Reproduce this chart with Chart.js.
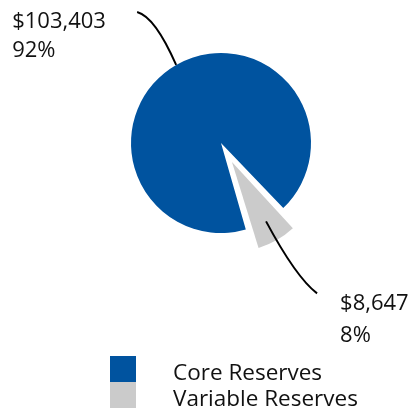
<!DOCTYPE html>
<html>
<head>
<meta charset="utf-8">
<script src="https://cdn.jsdelivr.net/npm/chart.js@4"></script>
<style>
  html, body { margin: 0; padding: 0; background: #fff; }
  canvas { display: block; }
</style>
</head>
<body>
<canvas id="reserves-chart" width="409" height="408"></canvas>
<script>
'use strict';

var categories = ['Core Reserves', 'Variable Reserves'];
var reserveValues = [103403, 8647];
var sliceColors = ['#00539f', '#cbcbcb'];
var sliceOffsets = [0, 88];   // chart.js moves a slice by offset / 4

// leader lines and value labels, pixels relative to the anchor on each slice
var callouts = [
  { depth: 1.0,  end: [-39, -53], ctrl: [-21, -48], text: [-125, 16], lead: 29 },
  { depth: 0.76, end: [51, 72],   ctrl: [30, 56],   text: [23, 17],   lead: 32 }
];

var FONT = '"Open Sans", "Noto Sans", sans-serif';
var INK = '#111';

// chart.js grows an offset slice's radius a bit; keep it the same size as the rest
var keepRadius = {
  id: 'keepRadius',
  afterUpdate: function(chart) {
    chart.getDatasetMeta(0).data.forEach(function(arc) {
      var shift = (arc.options.offset || 0) / 4;
      var fix = 1 - Math.sin(Math.min(Math.PI, arc.circumference));
      arc.outerRadius -= shift * fix;
    });
  }
};

var calloutsAndLegend = {
  id: 'calloutsAndLegend',
  afterDraw: function(chart) {
    var ctx = chart.ctx;
    var meta = chart.getDatasetMeta(0);
    var radius = meta.controller.outerRadius;
    var total = reserveValues.reduce(function(a, b) { return a + b; }, 0);

    ctx.save();
    meta.data.forEach(function(arc, i) {
      var c = callouts[i];
      var mid = (arc.startAngle + arc.endAngle) / 2;
      var dist = sliceOffsets[i] / 4 + c.depth * radius;
      var ax = arc.x + Math.cos(mid) * dist;
      var ay = arc.y + Math.sin(mid) * dist;
      var ex = ax + c.end[0], ey = ay + c.end[1];

      ctx.beginPath();
      ctx.moveTo(ax, ay);
      ctx.quadraticCurveTo(ax + c.ctrl[0], ay + c.ctrl[1], ex, ey);
      ctx.lineWidth = 2;
      ctx.strokeStyle = '#000';
      ctx.stroke();

      ctx.fillStyle = INK;
      ctx.font = '22px ' + FONT;
      ctx.textAlign = 'left';
      ctx.textBaseline = 'alphabetic';
      var tx = ex + c.text[0], ty = ey + c.text[1];
      ctx.fillText('$' + reserveValues[i].toLocaleString('en-US'), tx, ty);
      ctx.fillText(Math.round(reserveValues[i] / total * 100) + '%', tx, ty + c.lead);
    });

    // legend: stacked swatches, no gap
    var colors = chart.data.datasets[0].backgroundColor;
    ctx.font = '22.5px ' + FONT;
    chart.data.labels.forEach(function(label, i) {
      var y = 356 + i * 26;
      ctx.fillStyle = colors[i];
      ctx.fillRect(110, y, 26, 26);
      ctx.fillStyle = INK;
      ctx.fillText(label, 173, y + 24);
    });
    ctx.restore();
  }
};

var reservesChart = new Chart(document.getElementById('reserves-chart'), {
  type: 'pie',
  data: {
    labels: categories,
    datasets: [{
      data: reserveValues,
      backgroundColor: sliceColors,
      offset: sliceOffsets,
      borderWidth: 0
    }]
  },
  options: {
    responsive: false,
    animation: false,
    radius: 90,
    rotation: 164,
    layout: { padding: { left: 33, right: 0, top: 0, bottom: 122 } },
    plugins: {
      legend: { display: false },
      tooltip: { enabled: false }
    }
  },
  plugins: [keepRadius, calloutsAndLegend]
});
</script>
</body>
</html>
